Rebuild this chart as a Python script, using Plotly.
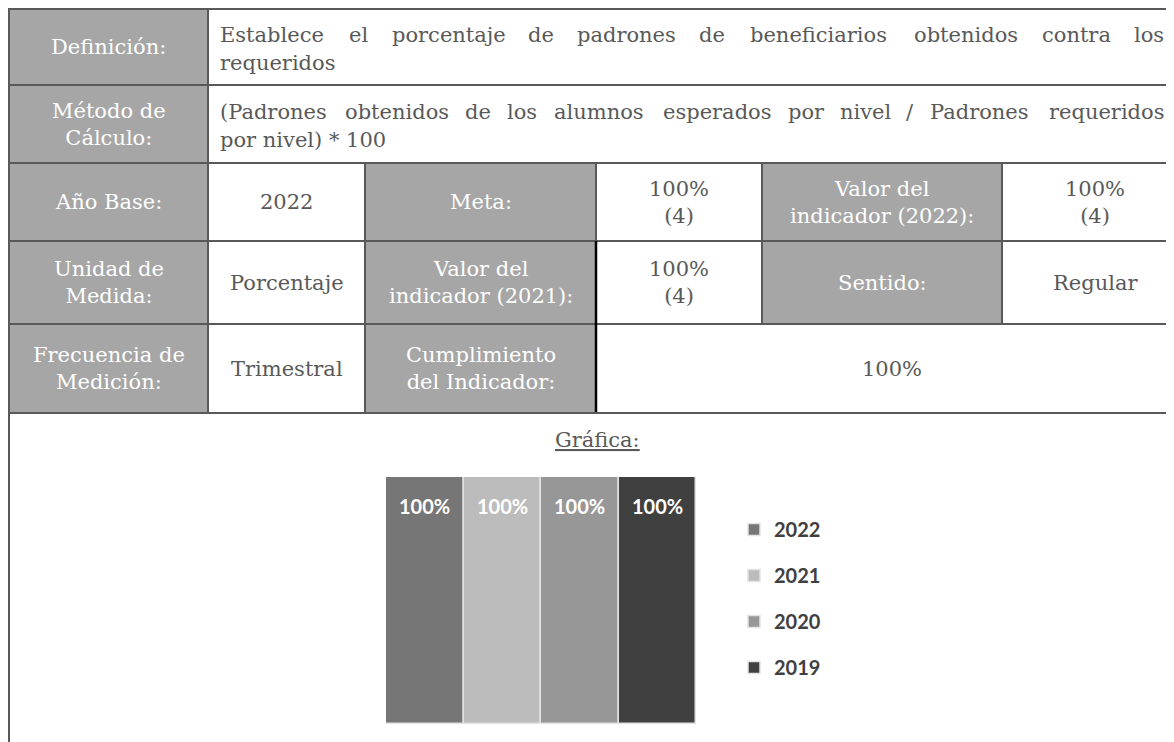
import plotly.graph_objects as go

# ---- datos de la ficha ----
etiquetas_fila = ["Definición:", "Método de<br>Cálculo:", "Año Base:",
                  "Unidad de<br>Medida:", "Frecuencia de<br>Medición:"]
definicion = ["Establece el porcentaje de padrones de beneficiarios obtenidos contra los",
              "requeridos"]
metodo = ["(Padrones obtenidos de los alumnos esperados por nivel / Padrones requeridos",
          "por nivel) * 100"]
anio_base = "2022"
meta = "100%<br>(4)"
valor_2022 = "100%<br>(4)"
unidad = "Porcentaje"
valor_2021 = "100%<br>(4)"
sentido = "Regular"
frecuencia = "Trimestral"
cumplimiento = "100%"
etiquetas_grises = ["Meta:", "Valor del<br>indicador (2022):", "Valor del<br>indicador (2021):",
                    "Sentido:", "Cumplimiento<br>del Indicador:"]
titulo_grafica = "Gráfica:"

# ---- datos de la gráfica ----
anios = ["2022", "2021", "2020", "2019"]
valores = [100, 100, 100, 100]
colores = ["#767676", "#bcbcbc", "#979797", "#404040"]

# la pagina tiene 8px de margen en el body: la figura se reduce para caber en 1174x742
OFF = 8
W, H = 1174 - OFF, 742 - OFF
GRIS = "#a6a6a6"
BORDE = "#595959"
TXT = "#595959"
FUENTE = "DejaVu Serif"
TAM = 21

col = [9, 208, 365, 596, 762, 1002, 1188]   # bordes de columnas (px en pantalla)
fil = [9, 85, 163, 241, 324, 413, 770]      # bordes de filas (px en pantalla)


def fx(x):
    return (x - OFF) / W


def fy(y):
    return 1 - (y - OFF) / H


shapes = []
annotations = []


def celda(c0, c1, r, texto=None, gris=False):
    x0, x1, y0, y1 = col[c0], col[c1], fil[r], fil[r + 1]
    shapes.append(dict(type="rect", xref="paper", yref="paper", layer="below",
                       x0=fx(x0), x1=fx(x1), y0=fy(y0), y1=fy(y1),
                       fillcolor=GRIS if gris else "white",
                       line=dict(color=BORDE, width=2)))
    if texto is not None:
        annotations.append(dict(xref="paper", yref="paper", x=fx((x0 + x1) / 2),
                                y=fy((y0 + y1) / 2), text=texto, showarrow=False,
                                xanchor="center", yanchor="middle", align="center",
                                font=dict(family=FUENTE, size=TAM,
                                          color="white" if gris else TXT)))


def ancho(palabra):
    # ancho aproximado en em (DejaVu Serif) para justificar
    w = 0
    for ch in palabra:
        if ch in "iljtf()/.,:*":
            w += 0.36
        elif ch in "r":
            w += 0.48
        elif ch in "mw":
            w += 0.95
        elif ch.isupper():
            w += 0.72
        else:
            w += 0.63
    return w


def justificada(linea, y, x0=218, x1=1166):
    palabras = linea.split(" ")
    anchos = [ancho(p) * TAM for p in palabras]
    hueco = (x1 - x0 - sum(anchos)) / (len(palabras) - 1)
    x = x0
    n = len(palabras)
    for i, (p, a) in enumerate(zip(palabras, anchos)):
        if i == 0:
            pos, anc = x0, "left"
        elif i == n - 1:
            pos, anc = x1, "right"
        else:
            pos, anc = x + a / 2, "center"
        annotations.append(dict(xref="paper", yref="paper", x=fx(pos), y=fy(y),
                                text=p, showarrow=False, xanchor=anc,
                                yanchor="middle",
                                font=dict(family=FUENTE, size=TAM, color=TXT)))
        x += a + hueco


def izquierda(linea, y, x0=218):
    annotations.append(dict(xref="paper", yref="paper", x=fx(x0), y=fy(y), text=linea,
                            showarrow=False, xanchor="left", yanchor="middle",
                            font=dict(family=FUENTE, size=TAM, color=TXT)))


# fila 1 y 2
celda(0, 1, 0, etiquetas_fila[0], gris=True)
celda(1, 6, 0)
justificada(definicion[0], 35)
izquierda(definicion[1], 63)
celda(0, 1, 1, etiquetas_fila[1], gris=True)
celda(1, 6, 1)
justificada(metodo[0], 112)
izquierda(metodo[1], 140)

# fila 3
celda(0, 1, 2, etiquetas_fila[2], gris=True)
celda(1, 2, 2, anio_base)
celda(2, 3, 2, etiquetas_grises[0], gris=True)
celda(3, 4, 2, meta)
celda(4, 5, 2, etiquetas_grises[1], gris=True)
celda(5, 6, 2, valor_2022)

# fila 4
celda(0, 1, 3, etiquetas_fila[3], gris=True)
celda(1, 2, 3, unidad)
celda(2, 3, 3, etiquetas_grises[2], gris=True)
celda(3, 4, 3, valor_2021)
celda(4, 5, 3, etiquetas_grises[3], gris=True)
celda(5, 6, 3, sentido)

# fila 5
celda(0, 1, 4, etiquetas_fila[4], gris=True)
celda(1, 2, 4, frecuencia)
celda(2, 3, 4, etiquetas_grises[4], gris=True)
celda(3, 6, 4, cumplimiento)

# linea negra junto a la columna 3
shapes.append(dict(type="line", xref="paper", yref="paper", layer="below",
                   x0=fx(col[3]), x1=fx(col[3]), y0=fy(fil[3]), y1=fy(fil[5]),
                   line=dict(color="black", width=2.5)))

# celda de la grafica
celda(0, 6, 5)
annotations.append(dict(xref="paper", yref="paper", x=fx(597), y=fy(440),
                        text="<u>" + titulo_grafica + "</u>", showarrow=False,
                        xanchor="center", yanchor="middle",
                        font=dict(family=FUENTE, size=TAM, color=TXT)))

fig = go.Figure()
for i, (a, v, c) in enumerate(zip(anios, valores, colores)):
    fig.add_trace(go.Bar(x=[a], y=[v], name=a, legendgroup=a,
                         marker=dict(color=c, line=dict(color="#e2e2e2", width=1.5)),
                         hoverinfo="skip"))
    annotations.append(dict(xref="x", yref="y", x=i, y=v, yshift=-29,
                            text=f"{v}%", showarrow=False,
                            font=dict(family="Lato", size=20, color="white", weight="bold")))

fig.update_layout(
    width=W, height=H,
    margin=dict(l=0, r=0, t=0, b=0),
    paper_bgcolor="white", plot_bgcolor="rgba(0,0,0,0)",
    barmode="overlay", bargap=0,
    xaxis=dict(domain=[fx(386), fx(696)], type="category", visible=False,
               range=[-0.5, 3.5], fixedrange=True),
    yaxis=dict(domain=[fy(724), fy(477)], range=[0, 100], visible=False,
               fixedrange=True),
    showlegend=True,
    legend=dict(x=fx(734), y=fy(510), xanchor="left", yanchor="top",
                font=dict(family="Lato", size=20, color="#404040", weight="bold"),
                tracegroupgap=17, itemwidth=30, bgcolor="rgba(0,0,0,0)"),
    shapes=shapes,
    annotations=annotations,
)

fig.write_html("out.html")
